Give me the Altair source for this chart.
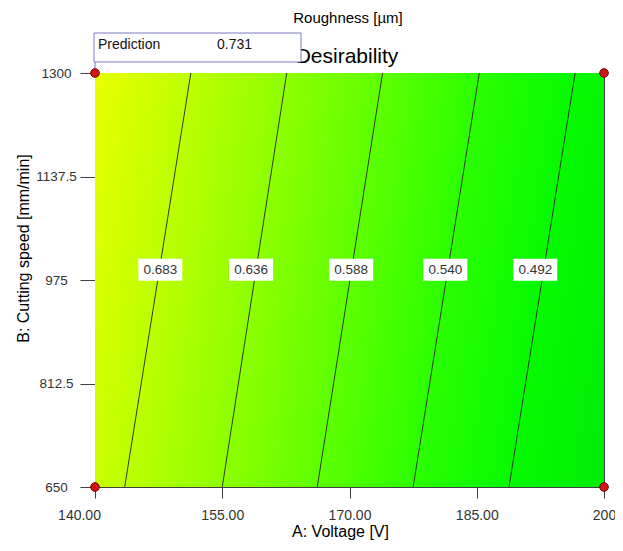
import altair as alt
import pandas as pd

# Contour levels of desirability and where each straight contour meets the
# bottom (B=650) and top (B=1300) edges, read in A units
levels = [0.683, 0.636, 0.588, 0.540, 0.492]
a_bottom = [143.5, 155.0, 166.2, 177.5, 188.8]
a_top = [151.3, 162.6, 173.9, 185.3, 196.6]
# contour label positions
label_a = [147.7, 158.4, 170.2, 181.3, 191.9]
label_b = [991, 991, 991, 991, 991]

# design space corners
corner_a = [140, 140, 200, 200]
corner_b = [650, 1300, 650, 1300]

# colour stops: desirability value -> colour
stop_values = [0.731, 0.683, 0.636, 0.588, 0.540, 0.492, 0.445]
stop_colors = ["#e8ff00", "#bcff00", "#8eff00", "#5eff00", "#2cff00", "#06fa00", "#00ec08"]
v_max, v_min = 0.731, 0.445

x_ticks = [140, 155, 170, 185, 200]
y_ticks = [650, 812.5, 975, 1137.5, 1300]

FONT = "Liberation Sans"

stops = [{"offset": (v_max - v) / (v_max - v_min), "color": c}
         for v, c in zip(stop_values, stop_colors)]
gradient = {"gradient": "linear", "x1": 0, "y1": 0, "x2": 1.111, "y2": 0.1441,
            "stops": stops}

bg_df = pd.DataFrame({"A0": [140], "A1": [200], "B0": [650], "B1": [1300]})
rows = []
for lv, ab, at in zip(levels, a_bottom, a_top):
    rows.append({"level": lv, "A": ab, "B": 650})
    rows.append({"level": lv, "A": at, "B": 1300})
line_df = pd.DataFrame(rows)
lab_df = pd.DataFrame({"A": label_a, "B": label_b,
                       "label": [f"{v:.3f}" for v in levels]})
corner_df = pd.DataFrame({"A": corner_a, "B": corner_b})

xs = alt.Scale(domain=[140, 200], nice=False, zero=False)
ys = alt.Scale(domain=[650, 1300], nice=False, zero=False)

x_axis = alt.Axis(values=x_ticks, grid=False, tickSize=11, labelPadding=10,
                  labelFlush=False,
                  labelExpr="datum.value == 200 ? '200' : format(datum.value, '.2f')",
                  labelFontSize=14, labelColor="#333333", labelFont=FONT,
                  labelOffset={"condition": {"test": "datum.value == 140", "value": -16}, "value": 0},
                  title="A: Voltage [V]", titleFont=FONT, titleFontSize=16,
                  titleFontWeight="normal", titleColor="#000000",
                  titleX=245, titleY=44, titleAlign="center", titleBaseline="middle",
                  domainColor="#404040", tickColor="#404040")
y_axis = alt.Axis(values=y_ticks, grid=False, tickSize=15, labelPadding=24,
                  labelExpr="format(datum.value, '.6~g')",
                  labelAlign="center", labelBaseline="middle",
                  labelFontSize=13.5, labelColor="#333333", labelFont=FONT,
                  title="B: Cutting speed [mm/min]", titleFont=FONT, titleFontSize=16,
                  titleFontWeight="normal", titleColor="#000000",
                  titleX=-72, titleY=175, titleAngle=270, titleAlign="center",
                  titleBaseline="middle", domainColor="#404040", tickColor="#404040")

bg = alt.Chart(bg_df).mark_rect(fill=gradient).encode(
    x=alt.X("A0:Q", scale=xs, axis=x_axis), x2="A1",
    y=alt.Y("B0:Q", scale=ys, axis=y_axis), y2="B1")

lines = alt.Chart(line_df).mark_line(color="#2e3a2a", strokeWidth=1).encode(
    x=alt.X("A:Q", scale=xs), y=alt.Y("B:Q", scale=ys), detail="level:N")

boxes = alt.Chart(lab_df).mark_rect(width=44, height=22, fill="white").encode(
    x=alt.X("A:Q", scale=xs), y=alt.Y("B:Q", scale=ys))
texts = alt.Chart(lab_df).mark_text(font=FONT, fontSize=13.5, color="#333333").encode(
    x=alt.X("A:Q", scale=xs), y=alt.Y("B:Q", scale=ys), text="label:N")

corners = alt.Chart(corner_df).mark_point(filled=True, size=75, fill="#d01515",
                                          stroke="#7a0000", strokeWidth=1, opacity=1).encode(
    x=alt.X("A:Q", scale=xs), y=alt.Y("B:Q", scale=ys))

one = pd.DataFrame({"d": [0]})
title1 = alt.Chart(one).mark_text(font=FONT, fontSize=15, color="#000000").encode(
    x=alt.value(253), y=alt.value(-55), text=alt.value("Roughness [µm]"))
title2 = alt.Chart(one).mark_text(font=FONT, fontSize=21, color="#000000").encode(
    x=alt.value(252), y=alt.value(-16), text=alt.value("Desirability"))
pred_box = alt.Chart(one).mark_rect(fill="white", stroke="#7a7ac8", strokeWidth=1).encode(
    x=alt.value(-1), x2=alt.value(206), y=alt.value(-40), y2=alt.value(-11))
pred_rule = alt.Chart(one).mark_rule(color="#7a7ac8").encode(
    x=alt.value(0), y=alt.value(-11), y2=alt.value(0))
pred_t1 = alt.Chart(one).mark_text(font=FONT, fontSize=14, color="#111111", align="left").encode(
    x=alt.value(3), y=alt.value(-28), text=alt.value("Prediction"))
pred_t2 = alt.Chart(one).mark_text(font=FONT, fontSize=14, color="#111111", align="left").encode(
    x=alt.value(122), y=alt.value(-28), text=alt.value("0.731"))

chart = alt.layer(bg, lines, boxes, texts, title1, title2, pred_box, pred_rule,
                  pred_t1, pred_t2, corners).properties(
    width=509, height=414,
    autosize=alt.AutoSizeParams(type="none"),
    padding={"left": 87, "top": 65, "right": 11, "bottom": 56},
    background="white",
).configure_view(stroke="#404040", strokeWidth=1)

chart.save("out.html", embed_options={"renderer": "svg", "actions": False})
